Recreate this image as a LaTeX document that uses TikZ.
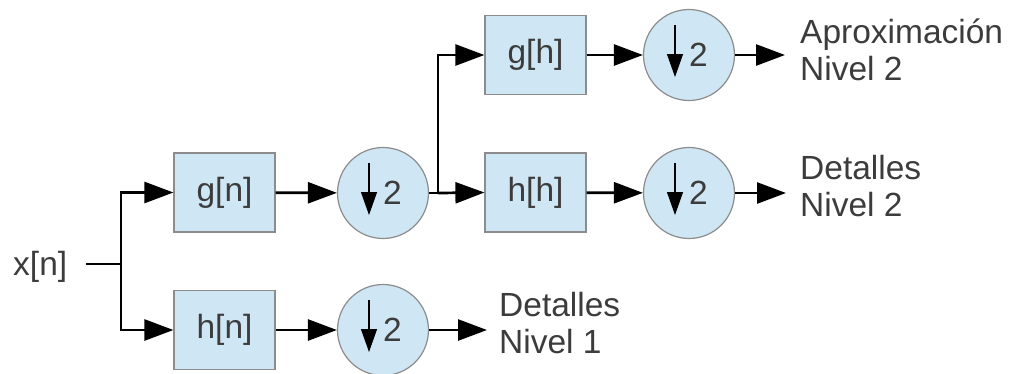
\documentclass[tikz,border=0pt]{standalone}
\usepackage{fontspec}
\setmainfont{Liberation Sans}
\usetikzlibrary{arrows.meta,calc}
\definecolor{blockfill}{RGB}{207,230,244}
\definecolor{blockline}{RGB}{140,140,140}
\definecolor{labeltext}{RGB}{60,60,60}
\begin{document}
\begin{tikzpicture}[x=1pt,y=1pt,
  every node/.style={font=\fontsize{33.5}{37}\selectfont, text=labeltext},
  filterbox/.style={draw=blockline, line width=1.2pt, fill=blockfill,
    minimum width=101pt, minimum height=79pt, inner sep=0pt},
  downsamp/.style={circle, draw=blockline, line width=1.2pt, fill=blockfill,
    minimum size=91pt, inner sep=0pt},
  flow/.style={line width=2.7pt, -{Triangle[length=29pt,width=21pt]}},
  wire/.style={line width=2.7pt},
  decim/.style={line width=1.3pt, -{Triangle[length=23pt,width=16pt]}},
  outlabel/.style={anchor=base west, align=left, inner sep=0pt}
]
\useasboundingbox (0,0) rectangle (1009,-373);

% input
\node[anchor=base west, inner sep=0pt] (xin) at (13,-275) {x[n]};
\coordinate (s1) at (121,-264);
\coordinate (x0) at (86,-264);

% first stage
\node[filterbox] (gn) at (224.5,-192.5) {g[n]};
\node[filterbox] (hn) at (224.5,-330) {h[n]};
\node[downsamp] (c1) at (383,-193) {};
\node[downsamp] (c2) at (383,-330) {};

% second stage
\coordinate (s2) at (438,-193);
\node[filterbox] (gh) at (535.5,-55) {g[h]};
\node[filterbox] (hh) at (535.5,-192.5) {h[h]};
\node[downsamp] (c3) at (689,-55) {};
\node[downsamp] (c4) at (689,-193) {};

% down-by-two symbols
\foreach \c in {c1,c2,c3,c4}{
  \draw[decim] ($(\c)+(-14,30)$) -- ($(\c)+(-14,-22)$);
  \node[anchor=base west, inner sep=0pt] at ($(\c)+(0,-11)$) {2};
}

% outputs (anchored on the baseline of the last line)
\node[outlabel] (oa) at (800,-80) {Aproximación\\Nivel 2};
\node[outlabel] (od2) at (800,-216) {Detalles\\Nivel 2};
\node[outlabel] (od1) at (499,-353) {Detalles\\Nivel 1};
\coordinate (e3) at (785,-55);
\coordinate (e4) at (786,-193);
\coordinate (e2) at (487,-330);

% connections
\draw[wire] (x0) -- (s1);
\draw[flow] (s1) |- (gn.west);
\draw[flow] (s1) |- (hn.west);
\draw[flow] (gn) -- (c1);
\draw[flow] (hn) -- (c2);
\draw[wire] (c1.east) -- (s2);
\draw[flow] (s2) |- (gh.west);
\draw[flow] (s2) -- (hh.west);
\draw[flow] (gh) -- (c3);
\draw[flow] (hh) -- (c4);
\draw[flow] (c3) -- (e3);
\draw[flow] (c4) -- (e4);
\draw[flow] (c2) -- (e2);
\end{tikzpicture}
\end{document}
